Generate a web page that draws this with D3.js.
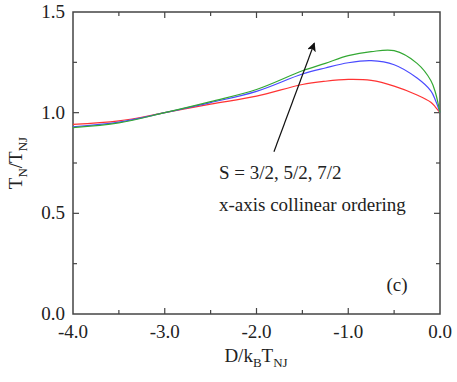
<!DOCTYPE html>
<html>
<head>
<meta charset="utf-8">
<script src="https://d3js.org/d3.v7.min.js"></script>
<style>
  body { margin: 0; background: #fff; }
  svg text { font-family: "Liberation Serif", "Times New Roman", serif; fill: #222; }
</style>
</head>
<body>
<svg id="chart" width="457" height="382"></svg>
<script>
// D/kBTNJ values where the curves were read
const xVals = [-4.0, -3.5, -3.0, -2.5, -2.0, -1.5, -1.25, -1.0, -0.75, -0.5, -0.25, -0.1, -0.05, 0.0];
// TN/TNJ for S = 3/2, 5/2, 7/2
const s32 = [0.942, 0.959, 1.0, 1.042, 1.082, 1.140, 1.156, 1.165, 1.160, 1.132, 1.088, 1.052, 1.028, 1.0];
const s52 = [0.930, 0.953, 1.0, 1.050, 1.106, 1.192, 1.222, 1.248, 1.258, 1.238, 1.172, 1.108, 1.062, 1.0];
const s72 = [0.926, 0.949, 1.0, 1.055, 1.115, 1.208, 1.245, 1.283, 1.303, 1.308, 1.245, 1.160, 1.100, 1.0];
const seriesNames = ["S = 3/2", "S = 5/2", "S = 7/2"];
const seriesColors = ["#ff3333", "#4a4aff", "#33a833"];

const xTicks = [-4.0, -3.0, -2.0, -1.0, 0.0];
const xMinor = [-3.5, -2.5, -1.5, -0.5];
const yTicks = [0.0, 0.5, 1.0, 1.5];
const yMinor = [0.25, 0.75, 1.25];

// arrow annotation (data units): tail -> head
const arrowFrom = [-1.81, 0.806];
const arrowTo = [-1.37, 1.345];

const width = 457, height = 382;
const margin = { top: 12, right: 17, bottom: 68, left: 73 };
const iw = width - margin.left - margin.right;
const ih = height - margin.top - margin.bottom;

const svg = d3.select('#chart');
const g = svg.append('g').attr('transform', `translate(${margin.left},${margin.top})`);

const x = d3.scaleLinear().domain([-4, 0]).range([0, iw]);
const y = d3.scaleLinear().domain([0, 1.5]).range([ih, 0]);

const axisColor = '#444';

// frame
g.append('rect')
  .attr('width', iw).attr('height', ih)
  .attr('fill', 'none').attr('stroke', axisColor).attr('stroke-width', 1.5);

// ticks (inward on all four sides)
function ticks(vals, len) {
  vals.forEach(v => {
    g.append('line').attr('x1', x(v)).attr('x2', x(v)).attr('y1', ih).attr('y2', ih - len)
      .attr('stroke', axisColor).attr('stroke-width', 1.2);
    g.append('line').attr('x1', x(v)).attr('x2', x(v)).attr('y1', 0).attr('y2', len)
      .attr('stroke', axisColor).attr('stroke-width', 1.2);
  });
}
function yticks(vals, len) {
  vals.forEach(v => {
    g.append('line').attr('x1', 0).attr('x2', len).attr('y1', y(v)).attr('y2', y(v))
      .attr('stroke', axisColor).attr('stroke-width', 1.2);
    g.append('line').attr('x1', iw).attr('x2', iw - len).attr('y1', y(v)).attr('y2', y(v))
      .attr('stroke', axisColor).attr('stroke-width', 1.2);
  });
}
ticks(xTicks.slice(1, -1), 6);
ticks(xMinor, 4);
yticks(yTicks.slice(1, -1), 6);
yticks(yMinor, 4);

// tick labels
g.selectAll('.xl').data(xTicks).enter().append('text')
  .attr('x', d => x(d)).attr('y', ih + 24)
  .attr('text-anchor', 'middle').style('font-size', '19px')
  .text(d => d.toFixed(1));

g.selectAll('.yl').data(yTicks).enter().append('text')
  .attr('x', -8).attr('y', d => y(d) + 6)
  .attr('text-anchor', 'end').style('font-size', '19px')
  .text(d => d.toFixed(1));

// axis titles
const xt = svg.append('text')
  .attr('x', 256).attr('y', 362)
  .attr('text-anchor', 'middle').style('font-size', '19px');
xt.append('tspan').text('D/k');
xt.append('tspan').attr('dy', 5).style('font-size', '13px').text('B');
xt.append('tspan').attr('dy', -5).text('T');
xt.append('tspan').attr('dy', 5).style('font-size', '13px').text('NJ');

const yt = svg.append('text')
  .attr('transform', 'translate(22,163) rotate(-90)')
  .attr('text-anchor', 'middle').style('font-size', '19px');
yt.append('tspan').text('T');
yt.append('tspan').attr('dy', 5).style('font-size', '13px').text('N');
yt.append('tspan').attr('dy', -5).text('/T');
yt.append('tspan').attr('dy', 5).style('font-size', '13px').text('NJ');

// curves
const line = d3.line()
  .x(d => x(d[0]))
  .y(d => y(d[1]))
  .curve(d3.curveCatmullRom.alpha(0.5));

[s32, s52, s72].forEach((vals, i) => {
  g.append('path')
    .datum(xVals.map((xv, j) => [xv, vals[j]]))
    .attr('fill', 'none')
    .attr('stroke', seriesColors[i])
    .attr('stroke-width', 1.2)
    .attr('d', line)
    .append('title').text(seriesNames[i]);
});

// arrow
svg.append('defs').append('marker')
  .attr('id', 'head').attr('viewBox', '0 0 10 10')
  .attr('refX', 9).attr('refY', 5)
  .attr('markerWidth', 9).attr('markerHeight', 9)
  .attr('markerUnits', 'userSpaceOnUse')
  .attr('orient', 'auto')
  .append('path').attr('d', 'M0,0 L10,5 L0,10 L2.5,5 Z').attr('fill', '#111');

g.append('line')
  .attr('x1', x(arrowFrom[0])).attr('y1', y(arrowFrom[1]))
  .attr('x2', x(arrowTo[0])).attr('y2', y(arrowTo[1]))
  .attr('stroke', '#111').attr('stroke-width', 1.2)
  .attr('marker-end', 'url(#head)');

// annotations
svg.append('text').attr('x', 219).attr('y', 179).style('font-size', '19px')
  .text('S = 3/2, 5/2, 7/2');
svg.append('text').attr('x', 219).attr('y', 211).style('font-size', '19px')
  .text('x-axis collinear ordering');
svg.append('text').attr('x', 397).attr('y', 291).attr('text-anchor', 'middle').style('font-size', '19px')
  .text('(c)');
</script>
</body>
</html>
